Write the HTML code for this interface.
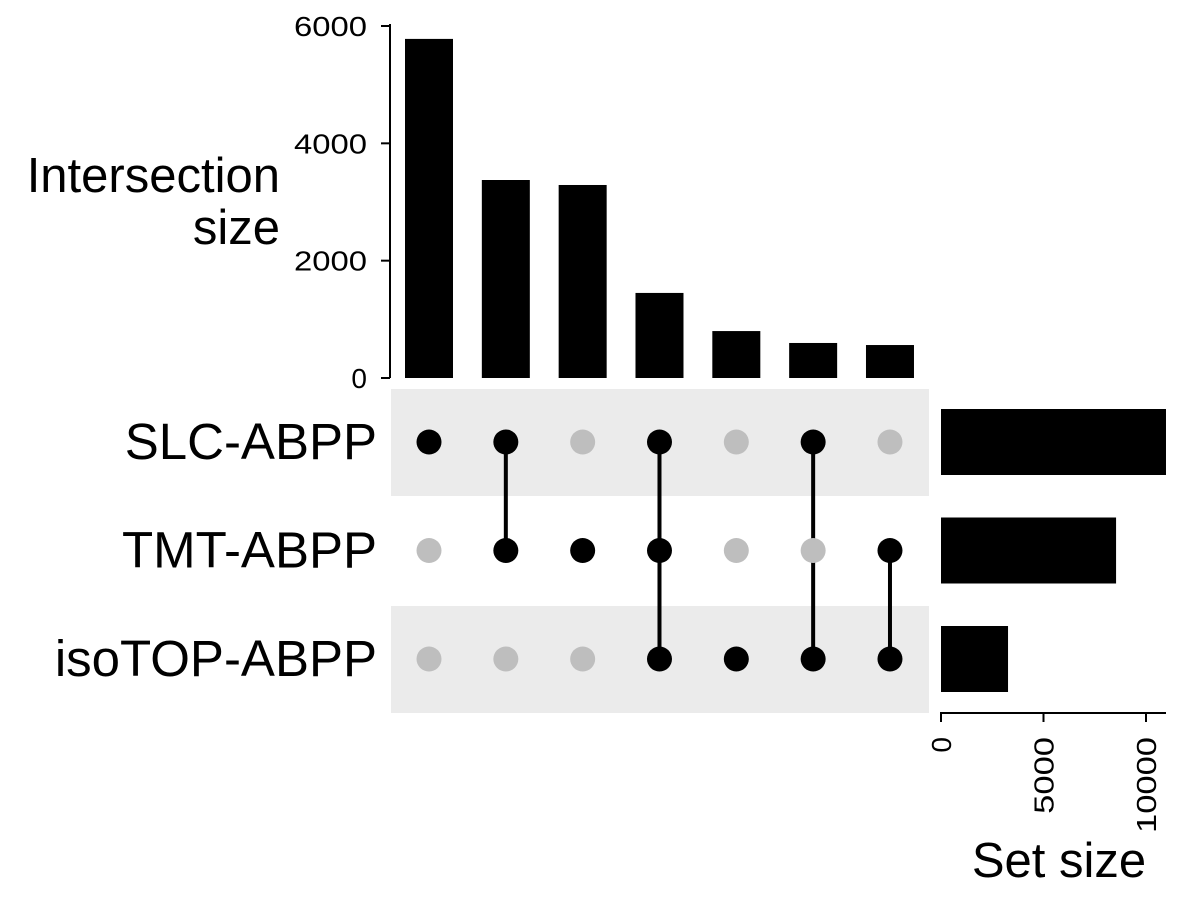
<!DOCTYPE html>
<html><head><meta charset="utf-8"><style>
body{margin:0;background:#fff}
svg{display:block;font-family:"Liberation Sans",Arial,sans-serif}
</style></head><body>
<svg id="chart" width="1200" height="900" viewBox="0 0 1200 900"></svg>
<script>
const sets = ["SLC-ABPP","TMT-ABPP","isoTOP-ABPP"];
const setSizes = [10975, 8540, 3270];
const intersectionSizes = [5780, 3375, 3290, 1450, 800, 597, 562];
const memberships = [[1,0,0],[1,1,0],[0,1,0],[1,1,1],[0,0,1],[1,0,1],[0,1,1]];
const yTicks = [0,2000,4000,6000];
const xTicks = [0,5000,10000];

const NS="http://www.w3.org/2000/svg";
const svg=document.getElementById('chart');
function el(tag,attrs,parent){const e=document.createElementNS(NS,tag);for(const k in attrs)e.setAttribute(k,attrs[k]);(parent||svg).appendChild(e);return e;}
const yScale=v=>378-v*(352/6000);
const colX=i=>429+i*76.83;
const rowY=j=>442+j*108.5;
const xScale=v=>941+v*0.0205;

[0,2].forEach(j=>{const r=el('rect',{x:391,y:rowY(j)-53,width:538,height:107,fill:'#ebebeb'});

});

const ya=el('line',{x1:390,y1:24,x2:390,y2:378,stroke:'#000','stroke-width':2});


yTicks.forEach(t=>{const y=yScale(t);
el('line',{x1:381,y1:y,x2:390,y2:y,stroke:'#000','stroke-width':2});
const tx=el('text',{x:367,y:y+10,'text-anchor':'end','font-size':28});tx.textContent=t;
if(t!==0){tx.setAttribute('textLength',73);tx.setAttribute('lengthAdjust','spacingAndGlyphs');}

});
const yt=el('text',{x:280,y:192,'text-anchor':'end','font-size':49});yt.textContent='Intersection';


const yt2=el('text',{x:280,y:244,'text-anchor':'end','font-size':49});yt2.textContent='size';



intersectionSizes.forEach((v,i)=>{const b=el('rect',{x:colX(i)-24,y:yScale(v),width:48,height:378-yScale(v),fill:'#000'});

});

sets.forEach((s,j)=>{const t=el('text',{x:377,y:rowY(j)+17,'text-anchor':'end','font-size':51});t.textContent=s;

});

memberships.forEach((m,i)=>{const on=m.map((v,j)=>v?j:-1).filter(j=>j>=0);
if(on.length>1){const l=el('line',{x1:colX(i),y1:rowY(on[0]),x2:colX(i),y2:rowY(on[on.length-1]),stroke:'#000','stroke-width':4});

}
m.forEach((v,j)=>{const c=el('circle',{cx:colX(i),cy:rowY(j),r:12.5,fill:v?'#000':'#bebebe'});

});});

setSizes.forEach((v,j)=>{const b=el('rect',{x:941,y:rowY(j)-33,width:xScale(v)-941,height:66,fill:'#000'});

});
const xa=el('line',{x1:940,y1:713,x2:1166,y2:713,stroke:'#000','stroke-width':2});


xTicks.forEach(t=>{const x=xScale(t);
el('line',{x1:x,y1:713,x2:x,y2:722,stroke:'#000','stroke-width':2});
const tx=el('text',{x:x+10,y:737,'text-anchor':'end','font-size':28,transform:`rotate(-90 ${x+10} 737)`});tx.textContent=t;
const n=String(t).length;
if(n>1){tx.setAttribute('textLength',n*19.2);tx.setAttribute('lengthAdjust','spacingAndGlyphs');}

});
const xt=el('text',{x:1059,y:877,'text-anchor':'middle','font-size':49});xt.textContent='Set size';


</script>
</body></html>
